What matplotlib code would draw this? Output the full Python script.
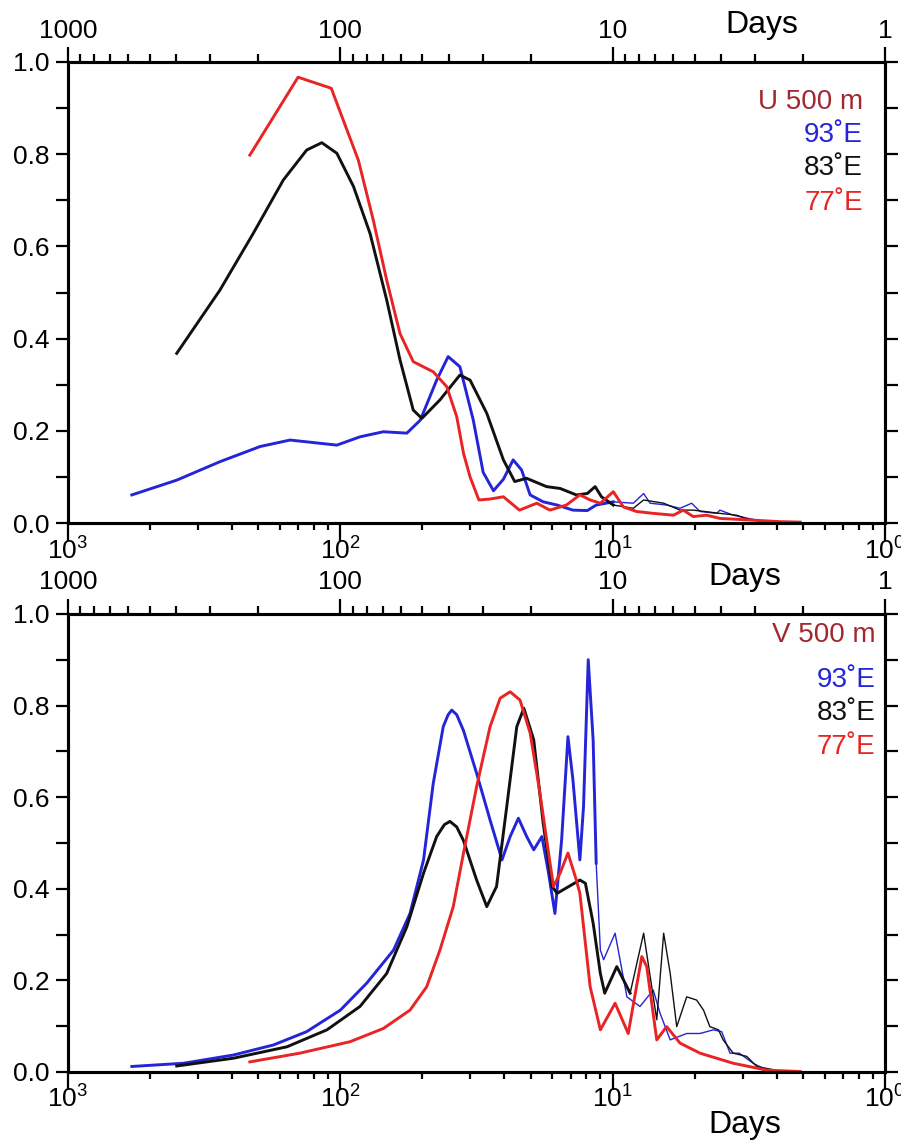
import numpy as np
import matplotlib
matplotlib.use("Agg")
import matplotlib.pyplot as plt
from matplotlib.ticker import FixedLocator, FixedFormatter, NullFormatter

plt.rcParams['font.family'] = ['Liberation Sans', 'DejaVu Sans']

# ---- U at 500 m : period (days) and normalised amplitude ----
u93_days = [583, 399, 277, 197, 153, 103, 84.7, 69.5, 57.0, 50.9, 44.3, 40.2, 36.4,
            32.5, 29.9, 27.4, 25.2, 23.2, 21.6, 20.1, 18.0, 16.0, 14.0, 12.4, 11.5,
            9.95, 8.4, 7.7, 7.29, 6.34, 5.66, 5.13, 4.78, 4.15, 4.04, 3.61, 3.43, 2.88]
u93_amp = [0.061, 0.093, 0.133, 0.166, 0.180, 0.169, 0.187, 0.198, 0.195, 0.223, 0.310,
           0.361, 0.339, 0.223, 0.110, 0.070, 0.095, 0.137, 0.115, 0.061, 0.046, 0.039,
           0.028, 0.027, 0.039, 0.046, 0.043, 0.064, 0.043, 0.039, 0.032, 0.043, 0.025,
           0.021, 0.028, 0.017, 0.014, 0.005]

u83_days = [399, 277, 209, 162, 133, 117, 103, 89.5, 77.8, 67.6, 60.4, 54.0, 50.2,
            43.1, 36.4, 33.4, 29.0, 25.2, 22.9, 20.7, 17.5, 15.6, 13.6, 12.4, 11.6,
            11.0, 9.95, 8.4, 7.7, 6.5, 5.66, 5.06, 4.04, 3.51, 3.13, 2.64]
u83_amp = [0.368, 0.505, 0.628, 0.744, 0.809, 0.825, 0.802, 0.730, 0.628, 0.484, 0.354,
           0.245, 0.227, 0.267, 0.321, 0.310, 0.238, 0.137, 0.090, 0.097, 0.079, 0.075,
           0.061, 0.064, 0.079, 0.057, 0.039, 0.032, 0.050, 0.043, 0.028, 0.028, 0.021,
           0.017, 0.007, 0.002]

u77_days = [215, 143, 108, 85.9, 75.7, 67.6, 60.4, 54.0, 45.6, 40.7, 37.4, 35.3, 33.4,
            31.0, 28.2, 25.2, 22.0, 19.0, 17.0, 14.8, 13.2, 12.1, 11.1, 9.95, 9.14,
            8.17, 7.10, 5.98, 5.51, 5.06, 4.52, 4.04, 3.22, 2.43, 2.05]
u77_amp = [0.798, 0.967, 0.943, 0.787, 0.657, 0.527, 0.411, 0.350, 0.328, 0.296, 0.231,
           0.151, 0.100, 0.050, 0.052, 0.057, 0.028, 0.043, 0.028, 0.039, 0.061, 0.050,
           0.043, 0.068, 0.035, 0.025, 0.021, 0.017, 0.028, 0.014, 0.017, 0.010, 0.007,
           0.003, 0.002]

# ---- V at 500 m ----
v93_days = [583, 377, 247, 176, 133, 100, 80.0, 63.8, 55.5, 49.5, 45.6, 41.9, 40.2,
            39.0, 37.4, 35.3, 31.6, 28.2, 25.5, 23.8, 22.2, 20.7, 19.5, 18.2, 17.2,
            16.3, 15.4, 14.6, 14.0, 13.2, 12.8, 12.3, 11.8, 11.5, 11.1, 10.8, 9.8,
            8.87, 7.94, 7.10, 6.70, 6.15, 5.35, 4.78, 4.27, 3.98, 3.71, 3.43, 3.05,
            2.72, 2.23]
v93_amp = [0.012, 0.019, 0.037, 0.059, 0.088, 0.135, 0.194, 0.266, 0.346, 0.463, 0.630,
           0.754, 0.780, 0.790, 0.780, 0.745, 0.652, 0.550, 0.463, 0.514, 0.554, 0.514,
           0.485, 0.514, 0.434, 0.346, 0.507, 0.732, 0.638, 0.463, 0.579, 0.900, 0.725,
           0.456, 0.266, 0.245, 0.303, 0.164, 0.143, 0.179, 0.128, 0.070, 0.084, 0.084,
           0.092, 0.088, 0.041, 0.041, 0.019, 0.004, 0.001]

v83_days = [399, 247, 157, 112, 84.7, 67.6, 57.0, 49.5, 44.3, 41.5, 39.6, 37.4, 35.3,
            31.6, 29.0, 26.7, 24.5, 22.5, 21.2, 19.5, 18.0, 16.7, 16.0, 13.2, 12.6,
            11.8, 11.1, 10.7, 9.66, 8.63, 7.7, 7.19, 6.89, 6.5, 6.15, 5.82, 5.35, 4.92,
            4.64, 4.40, 4.09, 3.93, 3.61, 3.22, 2.96, 2.43]
v83_amp = [0.013, 0.030, 0.055, 0.092, 0.143, 0.215, 0.317, 0.434, 0.514, 0.540, 0.547,
           0.535, 0.505, 0.419, 0.361, 0.405, 0.579, 0.754, 0.794, 0.725, 0.543, 0.405,
           0.390, 0.419, 0.412, 0.325, 0.215, 0.172, 0.230, 0.172, 0.303, 0.186, 0.114,
           0.303, 0.215, 0.099, 0.164, 0.157, 0.135, 0.099, 0.092, 0.070, 0.041, 0.034,
           0.012, 0.002]

v77_days = [215, 141, 92.2, 69.5, 55.5, 48.2, 43.1, 38.5, 35.3, 31.6, 28.2, 25.9, 23.8,
            21.9, 20.1, 18.5, 17.2, 16.5, 15.6, 14.6, 13.6, 13.2, 12.1, 11.1, 9.8,
            8.77, 7.82, 7.50, 6.89, 6.34, 5.66, 4.78, 3.61, 2.72, 2.05]
v77_amp = [0.022, 0.041, 0.066, 0.095, 0.135, 0.186, 0.266, 0.361, 0.478, 0.623, 0.754,
           0.816, 0.830, 0.812, 0.740, 0.609, 0.478, 0.405, 0.434, 0.478, 0.419, 0.390,
           0.186, 0.092, 0.150, 0.084, 0.252, 0.230, 0.070, 0.099, 0.063, 0.041, 0.019,
           0.004, 0.001]

decades = [1000, 100, 10, 1]
bottom_labels = [r'$\mathregular{10^{3}}$', r'$\mathregular{10^{2}}$',
                 r'$\mathregular{10^{1}}$', r'$\mathregular{10^{0}}$']
top_labels = ['1000', '100', '10', '1']

BLUE = '#2424d8'
BLACK = '#111111'
RED = '#e82424'
DARKRED = '#a0282e'


def draw_curve(ax, days, amp, color, split=None):
    days = np.asarray(days)
    amp = np.asarray(amp)
    if split is None:
        ax.plot(days, amp, color=color, lw=2.1, solid_joinstyle='round')
        return
    k = int((days >= split).sum())
    ax.plot(days[:k], amp[:k], color=color, lw=2.1, solid_joinstyle='round')
    ax.plot(days[k - 1:], amp[k - 1:], color=color, lw=1.0)


def setup_panel(ax):
    ax.set_xscale('log')
    ax.set_xlim(1000, 1)
    ax.set_ylim(0, 1)
    yt = np.round(np.arange(0, 1.01, 0.1), 1)
    ax.yaxis.set_major_locator(FixedLocator(yt))
    ax.yaxis.set_major_formatter(FixedFormatter(
        [f'{t:.1f}' if i % 2 == 0 else '' for i, t in enumerate(yt)]))
    ax.xaxis.set_major_locator(FixedLocator(decades))
    ax.xaxis.set_major_formatter(FixedFormatter(bottom_labels))
    # bottom minor ticks sit at equal steps in frequency
    minor_freq = [10 ** n / k for n in (3, 2, 1) for k in range(2, 10)]
    ax.xaxis.set_minor_locator(FixedLocator(minor_freq))
    ax.xaxis.set_minor_formatter(NullFormatter())
    ax.tick_params(axis='x', which='major', direction='out', length=13, width=1.6,
                   labelsize=19, pad=-3)
    ax.tick_params(axis='x', which='minor', direction='out', length=5, width=1.6)
    ax.tick_params(axis='y', which='major', direction='out', length=9, width=1.6,
                   labelsize=19, left=True, right=True, pad=4.5)
    for s in ax.spines.values():
        s.set_linewidth(2.2)

    top = ax.twiny()
    top.set_xscale('log')
    top.set_xlim(1000, 1)
    top.xaxis.set_major_locator(FixedLocator(decades))
    top.xaxis.set_major_formatter(FixedFormatter(top_labels))
    # top minor ticks sit at equal steps in period
    minor_period = [k * 10 ** n for n in (2, 1, 0) for k in range(2, 10)]
    top.xaxis.set_minor_locator(FixedLocator(minor_period))
    top.xaxis.set_minor_formatter(NullFormatter())
    top.tick_params(axis='x', which='major', direction='out', length=11, width=1.6,
                    labelsize=19, pad=3)
    top.tick_params(axis='x', which='minor', direction='out', length=6, width=1.6)
    for s in top.spines.values():
        s.set_linewidth(2.2)
    return top


fig = plt.figure(figsize=(9.01, 11.46), dpi=100)
ax1 = fig.add_axes([0.0755, 0.5436, 0.9068, 0.4023])
ax2 = fig.add_axes([0.0755, 0.0646, 0.9068, 0.3997])

setup_panel(ax1)
draw_curve(ax1, u93_days, u93_amp, BLUE, split=8.5)
draw_curve(ax1, u83_days, u83_amp, BLACK, split=8.5)
draw_curve(ax1, u77_days, u77_amp, RED)

setup_panel(ax2)
draw_curve(ax2, v93_days, v93_amp, BLUE, split=11.5)
draw_curve(ax2, v83_days, v83_amp, BLACK, split=8.6)
draw_curve(ax2, v77_days, v77_amp, RED)

# key text in the upper right corner of each panel
for ax, name, xr, ys in [(ax1, 'U 500 m', 0.973, [0.913, 0.842, 0.770, 0.694]),
                         (ax2, 'V 500 m', 0.988, [0.954, 0.856, 0.784, 0.710])]:
    for txt, col, y in zip([name, '93˚E', '83˚E', '77˚E'],
                           [DARKRED, BLUE, BLACK, RED], ys):
        ax.text(xr, y, txt, color=col, fontsize=20, ha='right', va='center',
                transform=ax.transAxes)

fig.text(0.845, 0.978, 'Days', fontsize=23, ha='center', va='center')
fig.text(0.827, 0.4965, 'Days', fontsize=23, ha='center', va='center')
fig.text(0.827, 0.0183, 'Days', fontsize=23, ha='center', va='center')

fig.savefig('out.png', dpi=100)
